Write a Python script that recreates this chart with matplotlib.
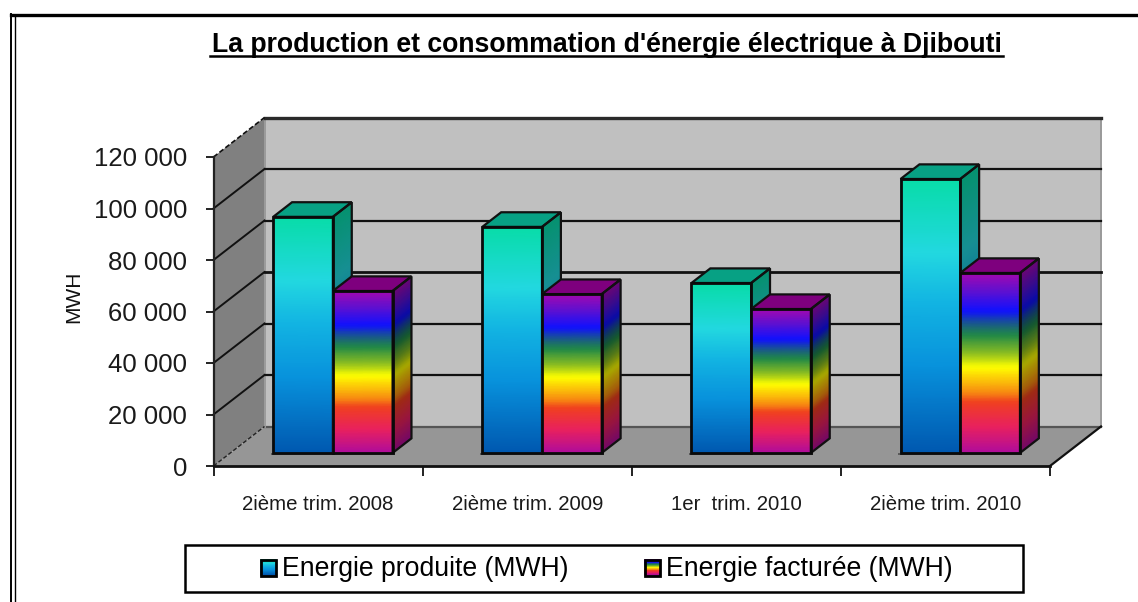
from __future__ import annotations

import matplotlib as mpl
mpl.use("Agg")
import matplotlib.pyplot as plt
import numpy as np
from matplotlib.colors import LinearSegmentedColormap
from matplotlib.patches import Polygon, Rectangle


# valeurs
trimestres = ["2ième trim. 2008", "2ième trim. 2009", "1er  trim. 2010", "2ième trim. 2010"]
energie_produite = [91700, 87800, 66000, 106400]
energie_facturee = [62900, 61700, 55900, 69900]
y_ticks = [0, 20000, 40000, 60000, 80000, 100000, 120000]
y_tick_labels = ["0", "20 000", "40 000", "60 000", "80 000", "100 000", "120 000"]
titre = "La production et consommation d'énergie électrique à Djibouti"
legende = ["Energie produite (MWH)", "Energie facturée (MWH)"]

W, H = 1138, 602
AX_L, AX_R, AX_B, AX_T = 213.5, 1050.0, 466.0, 157.0
X_PX = (AX_R - AX_L) / 4
Y_PX = (AX_B - AX_T) / 120000

# decalage de la pseudo 3D, en unites de donnees
DX = 51 / X_PX
DY = 39.5 / Y_PX
D_FRONT, D_BACK = 0.33, 0.70
BAR_W = 59.7 / X_PX
BAR_SHIFT = -2.0 / X_PX

STOPS_OCEAN = [(0, "#08DCA8"), (0.27, "#22D8E0"), (0.45, "#12B4E2"), (0.68, "#0892DC"), (1, "#0058B0")]
STOPS_RAINBOW = [
    (0, "#A408B0"), (0.10, "#6010D0"), (0.21, "#1010FF"), (0.29, "#1A6080"), (0.345, "#208848"),
    (0.45, "#90C020"), (0.525, "#FFFF00"), (0.66, "#F89010"), (0.72, "#F04020"), (0.86, "#E82060"),
    (1, "#B00C9C"),
]
TOP_OCEAN = "#07A184"
TOP_RAINBOW = "#7E007E"


def make_cmap(stops, factor=1.0):
    rgb = [(pos, tuple(factor * c for c in mpl.colors.to_rgb(col))) for pos, col in stops]
    return LinearSegmentedColormap.from_list("grad", rgb, N=256)


def gradient(ax, x, y, cmap, zorder):
    # x, y : 2 x 2 coins du quadrilatere (haut -> bas), couleur selon la hauteur
    t = np.linspace(0, 1, 61)
    xs = np.column_stack([x[0][0] + t * (x[1][0] - x[0][0]), x[0][1] + t * (x[1][1] - x[0][1])])
    ys = np.column_stack([y[0][0] + t * (y[1][0] - y[0][0]), y[0][1] + t * (y[1][1] - y[0][1])])
    c = np.column_stack([t, t])
    ax.pcolormesh(xs, ys, c, shading="gouraud", cmap=cmap, vmin=0, vmax=1, zorder=zorder, clip_on=False)


def draw_bar(ax, x0, value, stops, top_color, zorder):
    xa, xb = x0 + D_FRONT * DX, x0 + BAR_W + D_FRONT * DX
    y0, y1 = D_FRONT * DY, value + D_FRONT * DY
    ox, oy = (D_BACK - D_FRONT) * DX, (D_BACK - D_FRONT) * DY

    gradient(ax, [[xb, xb + ox], [xb, xb + ox]], [[y1, y1 + oy], [y0, y0 + oy]], make_cmap(stops, 0.66), zorder)
    gradient(ax, [[xa, xb], [xa, xb]], [[y1, y1], [y0, y0]], make_cmap(stops), zorder + 0.1)
    ax.add_patch(Polygon([(xa, y1), (xb, y1), (xb + ox, y1 + oy), (xa + ox, y1 + oy)], fc=top_color, ec="#111111",
                         lw=1.6, zorder=zorder + 0.2, clip_on=False, joinstyle="miter"))
    ax.add_patch(Polygon([(xb, y1), (xb + ox, y1 + oy), (xb + ox, y0 + oy), (xb, y0)], fc="none", ec="#111111",
                         lw=1.6, zorder=zorder + 0.2, clip_on=False))
    ax.add_patch(Rectangle((xa, y0), xb - xa, y1 - y0, fc="none", ec="#0a0a0a", lw=2.0,
                           zorder=zorder + 0.3, clip_on=False))


def draw_chart(fig):
    ax = fig.add_axes([AX_L / W, 1 - AX_B / H, (AX_R - AX_L) / W, (AX_B - AX_T) / H])
    ax.set_xlim(0, 4)
    ax.set_ylim(0, 120000)
    ax.patch.set_visible(False)
    for side in ("top", "right"):
        ax.spines[side].set_visible(False)
    ax.spines["left"].set_linewidth(1.6)
    ax.spines["bottom"].set_linewidth(2.0)
    ax.spines["left"].set_color("#222222")
    ax.spines["bottom"].set_color("#111111")

    top = 120000
    ax.add_patch(Polygon([(0, 0), (DX, DY), (DX, top + DY), (0, top)], fc="#808080", ec="none", zorder=1, clip_on=False))
    ax.add_patch(Rectangle((DX, DY), 4, top, fc="#C0C0C0", ec="#999999", lw=1.4, zorder=1, clip_on=False))
    ax.add_patch(Polygon([(0, 0), (4, 0), (4 + DX, DY), (DX, DY)], fc="#969696", ec="none", zorder=1.5, clip_on=False))
    ax.plot([DX, 4 + DX], [DY, DY], color="#555555", lw=1.6, zorder=1.6, clip_on=False)
    ax.plot([4, 4 + DX], [0, DY], color="#111111", lw=1.6, zorder=1.6, clip_on=False)
    ax.plot([DX, DX], [DY, top + DY], color="#9c9c9c", lw=1.4, zorder=1.6, clip_on=False)

    for tick in y_ticks:
        if tick == 0:
            ax.plot([0, DX], [0, DY], color="#222222", lw=1.0, ls=(0, (3, 1.5)), zorder=2, clip_on=False)
            continue
        is_top = tick == top
        lw = 2.4 if is_top else (2.0 if tick == 60000 else 1.6)
        ax.plot([DX, 4 + DX], [tick + DY, tick + DY], color="#2a2a2a" if is_top else "#111111", lw=lw,
                zorder=2, clip_on=False)
        ax.plot([0, DX], [tick, tick + DY], color="#111111", lw=1.2 if is_top else 1.4,
                ls=(0, (3, 1.5)) if is_top else "-", zorder=2, clip_on=False)

    for i in range(len(trimestres)):
        x0 = i + 0.5 - BAR_W + BAR_SHIFT
        ax.add_patch(Rectangle((x0 + D_FRONT * DX - 0.01, D_FRONT * DY - 900), 2 * BAR_W + 0.02, 900,
                               fc="#595959", ec="none", zorder=2.5, clip_on=False))
        draw_bar(ax, x0, energie_produite[i], STOPS_OCEAN, TOP_OCEAN, 3 + i)
        draw_bar(ax, x0 + BAR_W, energie_facturee[i], STOPS_RAINBOW, TOP_RAINBOW, 3.5 + i)

    ax.set_yticks(y_ticks, y_tick_labels)
    ax.tick_params(axis="y", length=6, width=1.3, labelsize=18.5, pad=13, color="#111111", labelcolor="#1a1a1a")
    ax.set_xticks(range(5), [""] * 5)
    ax.tick_params(axis="x", which="major", length=7, width=1.3, color="#111111")
    ax.set_xticks([0.5, 1.5, 2.5, 3.5], trimestres, minor=True)
    ax.tick_params(axis="x", which="minor", length=0, labelsize=14.7, pad=21, labelcolor="#1a1a1a")
    ax.set_ylabel("MWH", fontsize=15, labelpad=0, color="#111111")
    ax.yaxis.set_label_coords((83 - AX_L) / (AX_R - AX_L), (AX_B - 297) / (AX_B - AX_T))
    return ax


def draw_frame(fig):
    # cadre, titre et legende en pixels de l'image
    ov = fig.add_axes([0, 0, 1, 1], zorder=10)
    ov.set_xlim(0, W)
    ov.set_ylim(H, 0)
    ov.axis("off")

    ov.plot([11, W], [14.5, 14.5], color="black", lw=2.4)
    ov.plot([11.5, 11.5], [14, H], color="black", lw=1.4)
    ov.plot([15, 15], [16, H], color="black", lw=1.0)

    ov.text(606.5, 44.5, titre, ha="center", va="center", fontsize=19.2, fontweight="bold")
    ov.plot([210, 1003], [55.5, 55.5], color="black", lw=1.8)

    ov.add_patch(Rectangle((185, 545), 838, 47, fc="white", ec="black", lw=1.8))
    for x, label, stops in zip((261, 645), legende, (STOPS_OCEAN, STOPS_RAINBOW)):
        gradient(ov, [[x, x + 15], [x, x + 15]], [[559.5, 559.5], [575.5, 575.5]], make_cmap(stops), 11)
        ov.add_patch(Rectangle((x, 559.5), 15, 16, fc="none", ec="black", lw=2.0, zorder=12))
        ov.text(x + 21.5, 569, label, ha="left", va="center", fontsize=19.2, zorder=12)


def make_figure():
    plt.rcParams["font.family"] = ["Liberation Sans", "DejaVu Sans"]
    fig = plt.figure(figsize=(W / 100, H / 100), dpi=100, facecolor="white")
    draw_chart(fig)
    draw_frame(fig)
    fig.savefig("out.png", dpi=100)
    plt.close(fig)


if __name__ == "__main__":
    make_figure()
